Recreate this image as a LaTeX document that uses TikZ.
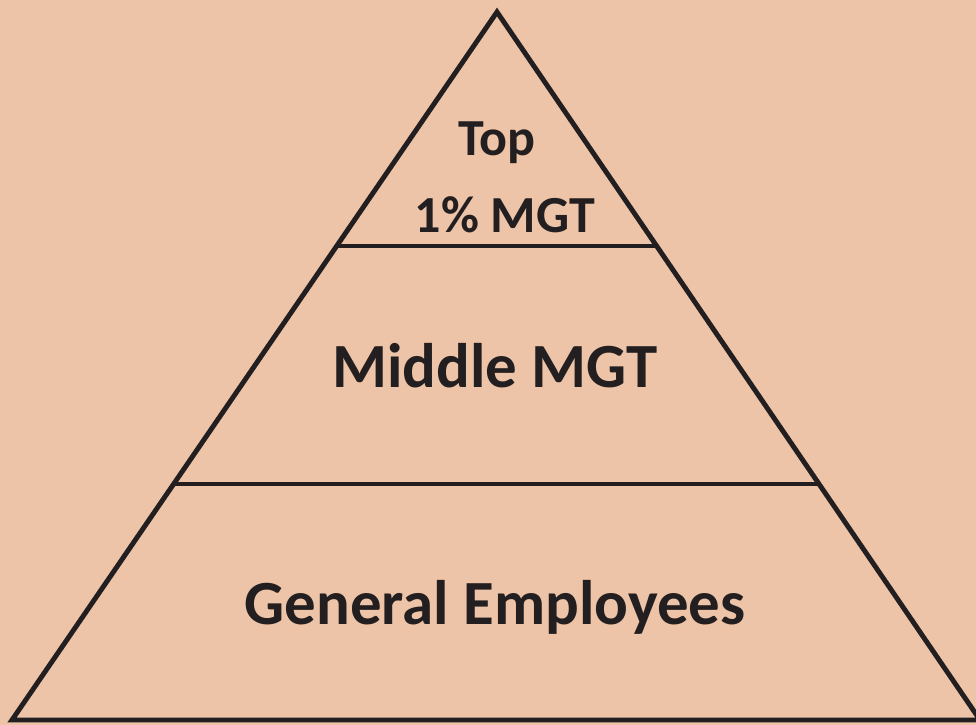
\documentclass[tikz,border=0pt]{standalone}
\usepackage{fontspec}
\setmainfont{Carlito}
\usetikzlibrary{calc}
\definecolor{bgpeach}{RGB}{237,196,168}
\definecolor{inkgray}{RGB}{35,31,32}
\tikzset{
    level line/.style = {draw = inkgray, line width = 2.8pt},
    level text/.style = {text = inkgray, anchor = base, inner sep = 0pt, font = \bfseries}
}

\begin{document}
\begin{tikzpicture}[scale = 1, transform shape]
        \fill[bgpeach] (0, 0) rectangle (19.52, 14.5);
        \useasboundingbox (0, 0) rectangle (19.52, 14.5);
        % corners of the pyramid
        \coordinate (apex) at (9.94, 14.26);
        \coordinate (left) at (0.24, 0.1);
        \coordinate (right) at (19.6, 0.1);
        \draw[level line, line join = miter] (left) -- (apex) -- (right) -- cycle;
        % dividers
        \coordinate (upL) at ($(left)!0.6695!(apex)$);
        \coordinate (upR) at ($(right)!0.6695!(apex)$);
        \coordinate (lowL) at ($(left)!0.3333!(apex)$);
        \coordinate (lowR) at ($(right)!0.3333!(apex)$);
        \draw[level line] (upL) -- (upR);
        \draw[level line] (lowL) -- (lowR);
        % labels
        \node[level text, font = \fontsize{29.6}{30}\selectfont\bfseries] (top) at (9.94, 11.38) {Top};
        \node[level text, font = \fontsize{29.6}{30}\selectfont\bfseries] (topmgt) at (10.1, 9.84) {1\% MGT};
        \node[level text, font = \fontsize{35.8}{36}\selectfont\bfseries] (middle) at (9.9, 6.74) {Middle MGT};
        \node[level text, font = \fontsize{35.8}{36}\selectfont\bfseries] (general) at (9.9, 2.0) {General Employees};
    \end{tikzpicture}
\end{document}
